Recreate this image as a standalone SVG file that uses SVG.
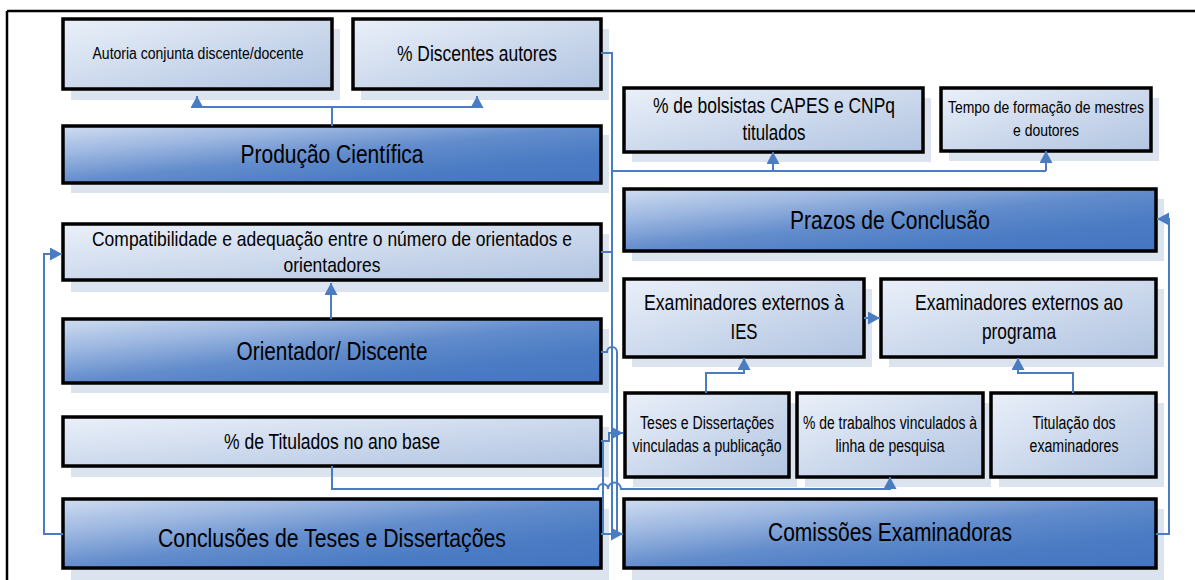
<svg xmlns="http://www.w3.org/2000/svg" width="1195" height="580" viewBox="0 0 1195 580">
<style>
.box{stroke:#000;stroke-width:3.5}
.light{fill:url(#gLight)}
.dark{fill:url(#gDark)}
.sh{fill:#dbe3ef}
.t{font-family:"Liberation Sans",Arial,sans-serif;fill:#000;text-anchor:middle}
.c{fill:none;stroke:#4a7cc2;stroke-width:2}
.a{marker-end:url(#arr)}
</style>
<defs>
<linearGradient id="gLight" x1="0" y1="0" x2="1" y2="1">
<stop offset="0" stop-color="#eaf0f9"/>
<stop offset="1" stop-color="#b1c4e1"/>
</linearGradient>
<linearGradient id="gDark" x1="0" y1="0" x2="1" y2="1">
<stop offset="0" stop-color="#d0ddf1"/>
<stop offset="0.25" stop-color="#9cb7e1"/>
<stop offset="0.5" stop-color="#628ccc"/>
<stop offset="0.75" stop-color="#4a7bc3"/>
<stop offset="1" stop-color="#4575c1"/>
</linearGradient>
<marker id="arr" markerUnits="userSpaceOnUse" markerWidth="14" markerHeight="14" refX="12" refY="6.5" orient="auto">
<path d="M0,0 L12,6.5 L0,13 Z" fill="#4a7cc2"/>
</marker>
</defs>
<path d="M7,11 H1195 M7,11 V580" fill="none" stroke="#000" stroke-width="2.5"/>

<g id="autoria">
<rect class="sh" x="71" y="29" width="269" height="71"/>
<rect class="box light" x="63" y="19" width="269" height="70"/>
<text class="t" x="198" y="59" font-size="16" textLength="211" lengthAdjust="spacingAndGlyphs">Autoria conjunta discente/docente</text>
</g>
<g id="discentes-autores">
<rect class="sh" x="361" y="29" width="248" height="71"/>
<rect class="box light" x="353" y="19" width="248" height="70"/>
<text class="t" x="477" y="61" font-size="22" textLength="160" lengthAdjust="spacingAndGlyphs">% Discentes autores</text>
</g>
<g id="producao">
<rect class="sh" x="71" y="135" width="538" height="58"/>
<rect class="box dark" x="63" y="126" width="538" height="57"/>
<text class="t" x="332" y="163" font-size="26" textLength="183" lengthAdjust="spacingAndGlyphs">Produção Científica</text>
</g>
<g id="compatibilidade">
<rect class="sh" x="71" y="234" width="538" height="58"/>
<rect class="box light" x="63" y="224" width="538" height="56"/>
<text class="t" x="332" y="246" font-size="21" textLength="480" lengthAdjust="spacingAndGlyphs">Compatibilidade e adequação entre o número de orientados e</text>
<text class="t" x="332" y="272" font-size="21" textLength="97" lengthAdjust="spacingAndGlyphs">orientadores</text>
</g>
<g id="orientador">
<rect class="sh" x="71" y="329" width="538" height="64"/>
<rect class="box dark" x="63" y="319" width="538" height="64"/>
<text class="t" x="332" y="360" font-size="26" textLength="191" lengthAdjust="spacingAndGlyphs">Orientador/ Discente</text>
</g>
<g id="titulados">
<rect class="sh" x="71" y="427" width="538" height="50"/>
<rect class="box light" x="63" y="417" width="538" height="49"/>
<text class="t" x="332" y="449" font-size="22" textLength="216" lengthAdjust="spacingAndGlyphs">% de Titulados no ano base</text>
</g>
<g id="conclusoes">
<rect class="sh" x="71" y="509" width="538" height="71"/>
<rect class="box dark" x="63" y="499" width="538" height="69"/>
<text class="t" x="332" y="547" font-size="26" textLength="348" lengthAdjust="spacingAndGlyphs">Conclusões de Teses e Dissertações</text>
</g>
<g id="bolsistas">
<rect class="sh" x="632" y="98" width="299" height="64"/>
<rect class="box light" x="624" y="88" width="299" height="64"/>
<text class="t" x="774" y="113" font-size="22" textLength="242" lengthAdjust="spacingAndGlyphs">% de bolsistas CAPES e CNPq</text>
<text class="t" x="774" y="140" font-size="22" textLength="63" lengthAdjust="spacingAndGlyphs">titulados</text>
</g>
<g id="tempo">
<rect class="sh" x="949" y="98" width="210" height="63"/>
<rect class="box light" x="941" y="88" width="210" height="63"/>
<text class="t" x="1046" y="113" font-size="17" textLength="196" lengthAdjust="spacingAndGlyphs">Tempo de formação de mestres</text>
<text class="t" x="1046" y="136" font-size="17" textLength="66" lengthAdjust="spacingAndGlyphs">e doutores</text>
</g>
<g id="prazos">
<rect class="sh" x="632" y="199" width="532" height="62"/>
<rect class="box dark" x="624" y="189" width="532" height="62"/>
<text class="t" x="890" y="229" font-size="26" textLength="200" lengthAdjust="spacingAndGlyphs">Prazos de Conclusão</text>
</g>
<g id="exam-ies">
<rect class="sh" x="632" y="289" width="240" height="78"/>
<rect class="box light" x="624" y="279" width="240" height="78"/>
<text class="t" x="744" y="310" font-size="22" textLength="200" lengthAdjust="spacingAndGlyphs">Examinadores externos à</text>
<text class="t" x="744" y="339" font-size="22" textLength="27" lengthAdjust="spacingAndGlyphs">IES</text>
</g>
<g id="exam-programa">
<rect class="sh" x="889" y="289" width="275" height="78"/>
<rect class="box light" x="881" y="279" width="275" height="78"/>
<text class="t" x="1019" y="310" font-size="22" textLength="208" lengthAdjust="spacingAndGlyphs">Examinadores externos ao</text>
<text class="t" x="1019" y="339" font-size="22" textLength="74" lengthAdjust="spacingAndGlyphs">programa</text>
</g>
<g id="teses-vinculadas">
<rect class="sh" x="633" y="403" width="164" height="84"/>
<rect class="box light" x="625" y="393" width="164" height="84"/>
<text class="t" x="707" y="429" font-size="18" textLength="134" lengthAdjust="spacingAndGlyphs">Teses e Dissertações</text>
<text class="t" x="707" y="452" font-size="18" textLength="149" lengthAdjust="spacingAndGlyphs">vinculadas a publicação</text>
</g>
<g id="trabalhos-vinculados">
<rect class="sh" x="805" y="403" width="186" height="84"/>
<rect class="box light" x="797" y="393" width="186" height="84"/>
<text class="t" x="890" y="429" font-size="18" textLength="174" lengthAdjust="spacingAndGlyphs">% de trabalhos vinculados à</text>
<text class="t" x="890" y="452" font-size="18" textLength="109" lengthAdjust="spacingAndGlyphs">linha de pesquisa</text>
</g>
<g id="titulacao">
<rect class="sh" x="999" y="403" width="165" height="84"/>
<rect class="box light" x="991" y="393" width="165" height="84"/>
<text class="t" x="1074" y="429" font-size="18" textLength="83" lengthAdjust="spacingAndGlyphs">Titulação dos</text>
<text class="t" x="1074" y="452" font-size="18" textLength="89" lengthAdjust="spacingAndGlyphs">examinadores</text>
</g>
<g id="comissoes">
<rect class="sh" x="632" y="509" width="532" height="71"/>
<rect class="box dark" x="624" y="499" width="532" height="69"/>
<text class="t" x="890" y="541" font-size="26" textLength="244" lengthAdjust="spacingAndGlyphs">Comissões Examinadoras</text>
</g>

<g id="connectors">
<path class="c" d="M332,126 V107 M197,107 H477"/>
<path class="c a" d="M197,107 V96"/>
<path class="c a" d="M477,107 V96"/>
<path class="c a" d="M331,319 V283"/>
<path class="c" d="M601,53 H612 V534"/>
<path class="c" d="M612,171 H1046"/>
<path class="c a" d="M1046,171 V151"/>
<path class="c a" d="M773,171 V152"/>
<path class="c" d="M601,252 H612"/>
<path class="c" d="M601,352 H607 A5,5 0 0 1 617,352 V534"/>
<path class="c a" d="M601,441 H609 V433 H623"/>
<path class="c" d="M603,441 V534"/>
<path class="c a" d="M601,534 H623"/>
<path class="c a" d="M332,466 V489 H598 A5,5 0 0 1 608,489 A5,5 0 0 1 621,489 H890 V477"/>
<path class="c a" d="M63,534 H44 V254 H62"/>
<path class="c a" d="M864,318 H880"/>
<path class="c a" d="M706,393 V373 H744 V358"/>
<path class="c a" d="M1073,393 V373 H1018 V358"/>
<path class="c a" d="M1156,534 H1169 V219 H1157"/>
</g>
</svg>
